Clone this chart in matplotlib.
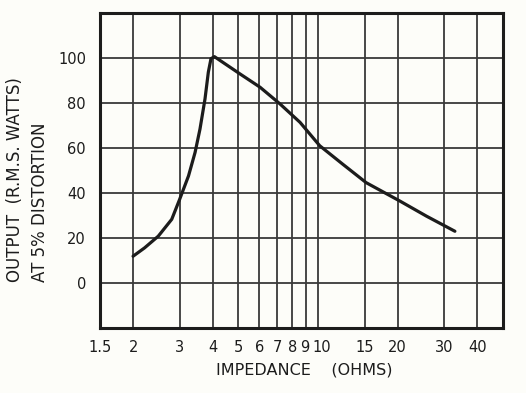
import matplotlib
matplotlib.use("Agg")
import matplotlib.pyplot as plt
import matplotlib.transforms as mtransforms
from matplotlib.ticker import FixedLocator, FixedFormatter, NullLocator

impedance = [2.0, 2.21, 2.49, 2.8, 3.0, 3.24, 3.43, 3.58, 3.74, 3.85, 3.94, 4.06,
             5.06, 6.04, 7.18, 8.55, 10.15, 12.4, 15.2, 20.4, 25.7, 32.9]
output_w = [11.9, 15.6, 20.8, 28.3, 37.2, 47.6, 58.0, 68.4, 81.8, 93.7, 99.7, 100.6,
            93.0, 87.0, 79.6, 71.4, 61.0, 52.8, 44.6, 36.4, 29.7, 23.0]

x_ticks = [1.5, 2, 3, 4, 5, 6, 7, 8, 9, 10, 15, 20, 30, 40]
x_labels = ["1.5", "2", "3", "4", "5", "6", "7", "8", "9", "10", "15", "20", "30", "40"]
x_grid = [2, 3, 4, 5, 6, 7, 8, 9, 10, 15, 20, 30, 40]
y_ticks = [0, 20, 40, 60, 80, 100]

ink = "#1c1c1c"
paper = "#fdfdf9"

fig = plt.figure(figsize=(5.26, 3.93), dpi=100)
fig.patch.set_facecolor(paper)
ax = fig.add_axes([100 / 526, 65 / 393, 403 / 526, 315 / 393])
ax.set_facecolor(paper)

ax.set_xscale("log")
ax.set_xlim(1.5, 50)
ax.set_ylim(-20, 120)

for xv in x_grid:
    ax.axvline(xv, color="#3a3a3a", lw=1.3, zorder=1)
for yv in y_ticks:
    ax.axhline(yv, color="#3a3a3a", lw=1.3, zorder=1)

ax.plot(impedance, output_w, color=ink, lw=2.3, solid_capstyle="round",
        solid_joinstyle="round", zorder=3)

ax.xaxis.set_major_locator(FixedLocator(x_ticks))
ax.xaxis.set_major_formatter(FixedFormatter(x_labels))
ax.xaxis.set_minor_locator(NullLocator())
ax.set_yticks(y_ticks)
ax.set_yticklabels([str(v) for v in y_ticks])
ax.tick_params(axis="both", length=0, labelsize=10.5, colors=ink)
ax.tick_params(axis="x", pad=9)
ax.tick_params(axis="y", pad=10)

# the 9 and 10 labels sit apart from their lines in the original
shifts = {"9": -1.5, "10": 4}
for lab in ax.get_xticklabels():
    dx = shifts.get(lab.get_text(), 0)
    if dx:
        lab.set_transform(lab.get_transform() + mtransforms.ScaledTranslation(dx / 100, 0, fig.dpi_scale_trans))

for side in ax.spines.values():
    side.set_linewidth(2.2)
    side.set_color(ink)

fig.text(304 / 526, 1 - 370 / 393, "IMPEDANCE    (OHMS)", ha="center", va="center",
         fontsize=11.5, color=ink)
fig.text(15 / 526, 1 - 282 / 393, "OUTPUT  (R.M.S. WATTS)", rotation=90,
         ha="center", va="bottom", fontsize=12, color=ink)
fig.text(40 / 526, 1 - 282 / 393, "AT 5% DISTORTION", rotation=90,
         ha="center", va="bottom", fontsize=12, color=ink)

fig.savefig("out.png", dpi=100, facecolor=paper)
